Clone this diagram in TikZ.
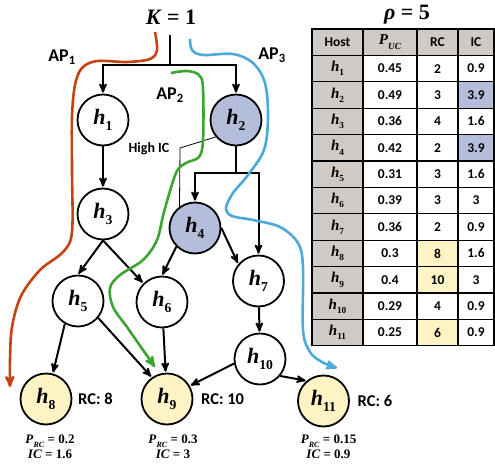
\documentclass[tikz,border=0pt]{standalone}
\usepackage{fontspec}
\setmainfont{Carlito}
\newfontfamily\mfont{Liberation Serif}
\usetikzlibrary{positioning}
\usetikzlibrary{arrows}
\definecolor{hostblue}{RGB}{180,190,218}
\definecolor{hostyellow}{RGB}{253,243,196}
\definecolor{hostgray}{RGB}{208,202,198}
\definecolor{apred}{RGB}{197,67,17}
\definecolor{apgreen}{RGB}{60,165,50}
\definecolor{apblue}{RGB}{75,170,215}
\newcommand{\sub}[1]{\raisebox{-0.28em}{\scalebox{0.62}{#1}}}
\newcommand{\hst}[1]{\textit{h}\sub{#1}}

\begin{document}
\begin{tikzpicture}[x=1pt, y=-1pt]
\tikzset{
    host/.style = {draw, circle, line width=1.8pt, minimum size=51pt, inner sep=0pt,
                   font=\mfont\fontsize{22}{24}\bfseries\selectfont},
    link/.style = {->, >=stealth', line width=2pt, shorten >=1pt},
    note/.style = {inner sep=1pt, font=\fontsize{16.5}{19}\bfseries\selectfont},
    info/.style = {inner sep=1pt, align=center, font=\mfont\fontsize{13}{15}\bfseries\selectfont},
    aplabel/.style = {inner sep=0pt, font=\fontsize{18}{21}\bfseries\selectfont},
    appath/.style = {->, >=stealth', line width=2.6pt},
    cell/.style = {draw, rectangle, line width=1.2pt, minimum height=26.4pt, inner sep=0pt,
                   font=\fontsize{13.5}{16}\bfseries\selectfont},
    hostcell/.style = {cell, fill=hostgray, minimum width=51pt,
                   font=\mfont\fontsize{15}{16}\bfseries\selectfont}
}
\useasboundingbox (0,0) rectangle (495,468);

% -------------------------------------------------------
\node[inner sep=0pt, font=\mfont\fontsize{22}{24}\bfseries\selectfont] (k) at (171,17) {\textit{K} = 1};
\coordinate (root) at (170,35);
\coordinate (fork) at (170,65);

\node[host] (h1) at (103,120) {\hst{1}};
\node[host, fill=hostblue] (h2) at (236,120) {\hst{2}};
\node[host] (h3) at (103,214) {\hst{3}};
\node[host, fill=hostblue] (h4) at (195,228) {\hst{4}};
\coordinate (fork2) at (236,173);
\node[host] (h5) at (78,301) {\hst{5}};
\node[host] (h6) at (162,302) {\hst{6}};
\node[host] (h7) at (258.5,281) {\hst{7}};
\node[host] (h10) at (260,359) {\hst{10}};
\node[host, fill=hostyellow] (h8) at (46,399) {\hst{8}};
\node[host, fill=hostyellow] (h9) at (167,399) {\hst{9}};
\node[host, fill=hostyellow] (h11) at (323.5,401) {\hst{11}};

\node[note, right=31pt] (rc8) at (h8) {RC: 8};
\node[note, right=33pt] (rc9) at (h9) {RC: 10};
\node[note, right=33pt] (rc11) at (h11) {RC: 6};

\node[info, below=35pt, xshift=4pt] (p8) at (h8) {\textit{P}\sub{\textit{RC}} = 0.2\\\textit{IC} = 1.6};
\node[info, below=35pt, xshift=6pt] (p9) at (h9) {\textit{P}\sub{\textit{RC}} = 0.3\\\textit{IC} = 3};
\node[info, below=33pt, xshift=5pt] (p11) at (h11) {\textit{P}\sub{\textit{RC}} = 0.15\\\textit{IC} = 0.9};

\node[inner sep=1pt, font=\fontsize{14}{16}\bfseries\selectfont] (high) at (149,149) {High IC};
\coordinate (callout) at (180,148);

% -------------------------------------------------------
\draw[link, -] (root) -- (fork);
\draw[link] (fork) -| (h1);
\draw[link] (fork) -| (h2);
\draw[link, -] (h2) -- (fork2);
\draw[link] (fork2) -| (h4);
\draw[link] (fork2) -| (h7);

\draw[link] (h1) -- (h3);
\draw[link] (h3.south) -- (h5.north);
\draw[link] (h3.south) -- (h6.north west);
\draw[link] (h4.225) -- (h6.north);
\draw[link] (h4.east) -- (h7.140);
\draw[link] (h5.240) -- (h8.75);
\draw[link] (h5.320) -- (h9.125);
\draw[link] (h6) -- (h9);
\draw[link] (h7) -- (h10);
\draw[link] (h10.190) -- (h9.30);
\draw[link] (h10.320) -- (h11.130);

\draw[line width=0.8pt] (h2.220) -- (callout) -- (h4.126);

% -------------------------------------------------------
\node[aplabel] (ap1) at (62,57) {AP\textsubscript{1}};
\node[aplabel] (ap2) at (170,95) {AP\textsubscript{2}};
\node[aplabel] (ap3) at (272,55) {AP\textsubscript{3}};

\draw[appath, apred] plot[smooth, tension=0.55] coordinates {(155,32) (157,50) (150,59) (127,62) (97,61) (82,68) (75,85) (72,117) (72,170) (72,232) (63,252) (40,270) (21,296) (12,327) (10,360) (10,387)};
\draw[appath, apgreen] plot[smooth, tension=0.55] coordinates {(171,73) (187,71) (199,75) (203,88) (203,140) (199,157) (186,163) (176,173) (164,212) (157,240) (143,260) (120,275) (110,288) (113,307) (127,327) (143,350) (155,367)};
\draw[appath, apblue] plot[smooth, tension=0.55] coordinates {(190,39) (192,50) (203,55) (233,54) (253,63) (265,83) (268,117) (264,150) (248,175) (233,193) (226,208) (232,216) (253,220) (280,227) (298,243) (303,267) (303,330) (310,352) (322,362) (337,368)};

% -------------------------------------------------------
\node[inner sep=0pt, font=\mfont\fontsize{22}{24}\bfseries\selectfont] (rho) at (407,15) {\textit{ρ} = 5};

\node[hostcell, font=\fontsize{13.5}{16}\bfseries\selectfont] (hosthead) at (337.5,42.2) {Host};
\node[cell, fill=hostgray, minimum width=54pt, font=\mfont\fontsize{15}{16}\bfseries\selectfont] (puchead) at (390,42.2) {\textit{P}\sub{\textit{UC}}};
\node[cell, fill=hostgray, minimum width=41pt] (rchead) at (437.5,42.2) {RC};
\node[cell, fill=hostgray, minimum width=36pt] (ichead) at (476,42.2) {IC};

\foreach \hname/\puc/\rc/\ic/\rcfill/\icfill [count=\r] in {
    1/0.45/2/0.9/white/white,
    2/0.49/3/3.9/white/hostblue,
    3/0.36/4/1.6/white/white,
    4/0.42/2/3.9/white/hostblue,
    5/0.31/3/1.6/white/white,
    6/0.39/3/3/white/white,
    7/0.36/2/0.9/white/white,
    8/0.3/8/1.6/hostyellow/white,
    9/0.4/10/3/hostyellow/white,
    10/0.29/4/0.9/white/white,
    11/0.25/6/0.9/hostyellow/white} {
    \node[hostcell] (host\r) at (337.5,{42.2+26.4*\r}) {\hst{\hname}};
    \node[cell, minimum width=54pt] (puc\r) at (390,{42.2+26.4*\r}) {\puc};
    \node[cell, fill=\rcfill, minimum width=41pt] (rc\r) at (437.5,{42.2+26.4*\r}) {\rc};
    \node[cell, fill=\icfill, minimum width=36pt] (ic\r) at (476,{42.2+26.4*\r}) {\ic};
}
\end{tikzpicture}
\end{document}
